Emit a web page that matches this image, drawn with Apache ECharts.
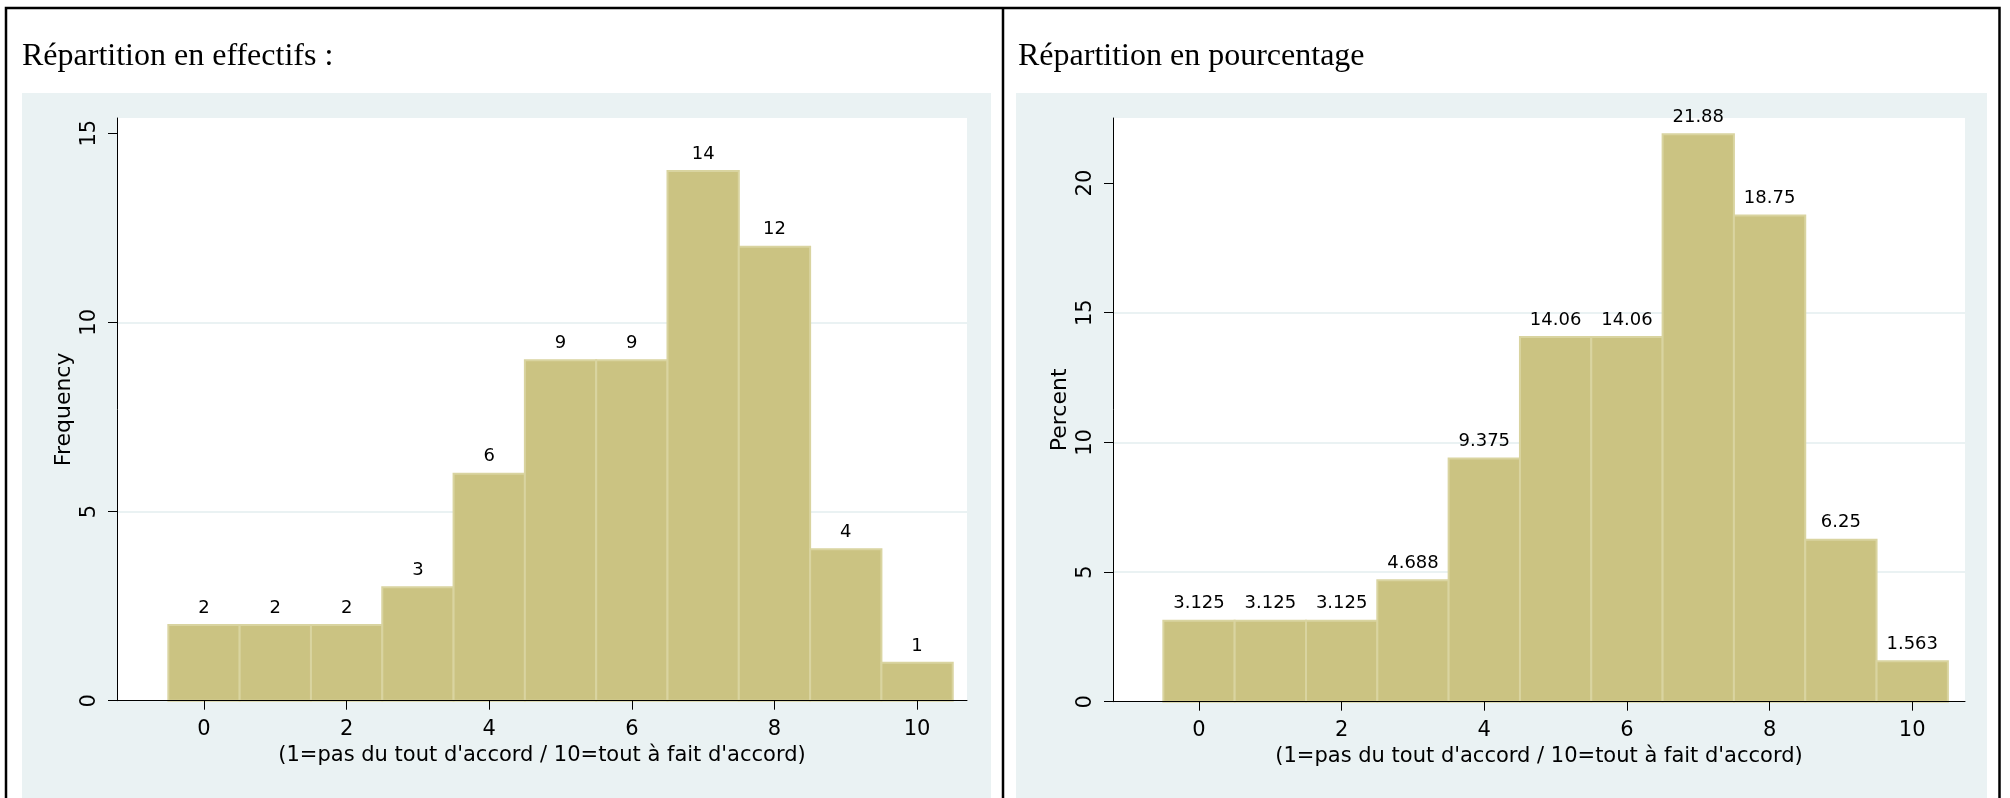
<!DOCTYPE html>
<html><head><meta charset="utf-8">
<script src="https://cdn.jsdelivr.net/npm/echarts@6/dist/echarts.min.js"></script>
<style>html,body{margin:0;padding:0;background:#fff;} #c{width:2010px;height:798px;}</style>
</head><body><div id="c"></div>
<script>
const categories = [0, 1, 2, 3, 4, 5, 6, 7, 8, 9, 10];
const frequencies = [2, 2, 2, 3, 6, 9, 9, 14, 12, 4, 1];
const percents = [3.125, 3.125, 3.125, 4.688, 9.375, 14.06, 14.06, 21.88, 18.75, 6.25, 1.563];
const xTicks = [0, 2, 4, 6, 8, 10];
const freqTicks = [0, 5, 10, 15];
const pctTicks = [0, 5, 10, 15, 20];
const titles = ['Répartition en effectifs :', 'Répartition en pourcentage'];
const yNames = ['Frequency', 'Percent'];
const xName = "(1=pas du tout d'accord / 10=tout à fait d'accord)";

const SANS = 'DejaVu Sans';
const SERIF = 'Liberation Serif';
const PANEL = '#EAF2F3';
const BAR_FILL = '#CBC382';
const BAR_EDGE = '#D9D4A0';

function barRenderer(params, api) {
  const x = api.value(0), v = api.value(1);
  const p0 = api.coord([x - 0.5, v]);
  const p1 = api.coord([x + 0.5, 0]);
  return {
    type: 'rect',
    shape: { x: p0[0], y: p0[1], width: p1[0] - p0[0], height: p1[1] - p0[1] },
    style: { fill: BAR_FILL, stroke: BAR_EDGE, lineWidth: 2 },
    textContent: { style: { text: String(v), fontFamily: SANS, fontSize: 18, fill: '#000' } },
    textConfig: { position: 'top', distance: 7 }
  };
}

function xAxisDef(idx, min, max) {
  return {
    type: 'value', gridIndex: idx, min: min, max: max, z: 5,
    name: xName, nameLocation: 'middle', nameGap: 44,
    nameTextStyle: { fontFamily: SANS, fontSize: 21, color: '#000' },
    axisLine: { show: true, onZero: false, lineStyle: { color: '#000', width: 1 } },
    axisTick: { show: true, length: 9, customValues: xTicks, lineStyle: { color: '#000', width: 1 } },
    axisLabel: { customValues: xTicks, fontFamily: SANS, fontSize: 21, color: '#000', margin: 18 },
    splitLine: { show: false }
  };
}
function yAxisDef(idx, max, ticks, name) {
  return {
    type: 'value', gridIndex: idx, min: 0, max: max,
    name: name, nameLocation: 'middle', nameGap: 42, nameRotate: 90,
    nameTextStyle: { fontFamily: SANS, fontSize: 22, color: '#000' },
    axisLine: { show: true, onZero: false, lineStyle: { color: '#000', width: 1 } },
    axisTick: { show: true, length: 9, customValues: ticks, lineStyle: { color: '#000', width: 1 } },
    axisLabel: { customValues: ticks, rotate: 90, fontFamily: SANS, fontSize: 21, color: '#000', margin: 17 },
    splitLine: { show: true, showMaxLine: false, lineStyle: { color: PANEL, width: 2 } }
  };
}

const chart = echarts.init(document.getElementById('c'), null, { renderer: 'canvas' });
chart.setOption({
  animation: false,
  backgroundColor: '#fff',
  title: [
    { text: titles[0], left: 22, top: 41, padding: 0, textStyle: { fontFamily: SERIF, fontSize: 32, fontWeight: 'normal', color: '#000' } },
    { text: titles[1], left: 1018, top: 41, padding: 0, textStyle: { fontFamily: SERIF, fontSize: 32, fontWeight: 'normal', color: '#000' } }
  ],
  graphic: [
    { type: 'rect', z: -10, shape: { x: 22, y: 93, width: 969, height: 720 }, style: { fill: PANEL } },
    { type: 'rect', z: -10, shape: { x: 1016, y: 93, width: 971, height: 720 }, style: { fill: PANEL } },
    { type: 'rect', z: 100, shape: { x: 6, y: 8, width: 1993.5, height: 830 }, style: { fill: 'none', stroke: '#000', lineWidth: 2.5 } },
    { type: 'line', z: 100, shape: { x1: 1003, y1: 8, x2: 1003, y2: 810 }, style: { stroke: '#000', lineWidth: 2.5 } }
  ],
  grid: [
    { left: 117, top: 118, width: 850, height: 582.7, show: true, backgroundColor: '#fff', borderWidth: 0 },
    { left: 1113, top: 118, width: 852, height: 583.7, show: true, backgroundColor: '#fff', borderWidth: 0 }
  ],
  xAxis: [xAxisDef(0, -1.22, 10.70), xAxisDef(1, -1.206, 10.74)],
  yAxis: [yAxisDef(0, 15.40, freqTicks, yNames[0]), yAxisDef(1, 22.51, pctTicks, yNames[1])],
  series: [
    { type: 'custom', xAxisIndex: 0, yAxisIndex: 0, renderItem: barRenderer,
      data: categories.map((c, i) => [c, frequencies[i]]) },
    { type: 'custom', xAxisIndex: 1, yAxisIndex: 1, renderItem: barRenderer,
      data: categories.map((c, i) => [c, percents[i]]) }
  ]
});
</script></body></html>
